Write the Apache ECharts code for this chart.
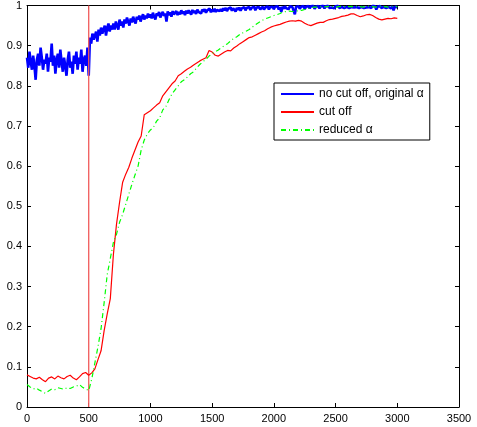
<!DOCTYPE html>
<html>
<head>
<meta charset="utf-8">
<script src="https://cdn.jsdelivr.net/npm/echarts@6/dist/echarts.min.js"></script>
<style>
  html, body { margin: 0; padding: 0; background: #fff; }
  #chart1 { width: 477px; height: 427px; }
</style>
</head>
<body>
<!-- chart container -->
<div id="chart1"></div>
<script>
// x ticks / y ticks
const xTicks = [0, 500, 1000, 1500, 2000, 2500, 3000, 3500];
const yTicks = [0, 0.1, 0.2, 0.3, 0.4, 0.5, 0.6, 0.7, 0.8, 0.9, 1];

// cut off point
const cutX = 500;

// "no cut off, original alpha", sampled every 10 steps (0..3000), one row = 100 steps
const blueStep = 10;
const blueVals = [
  0.87, 0.845, 0.885, 0.86, 0.84, 0.875, 0.85, 0.815, 0.865, 0.88,
  0.85, 0.895, 0.87, 0.84, 0.865, 0.855, 0.88, 0.835, 0.87, 0.86,
  0.905, 0.85, 0.875, 0.83, 0.865, 0.88, 0.845, 0.89, 0.86, 0.835,
  0.87, 0.85, 0.825, 0.865, 0.885, 0.845, 0.86, 0.83, 0.875, 0.855,
  0.885, 0.84, 0.87, 0.855, 0.89, 0.835, 0.865, 0.875, 0.85, 0.895,
  0.825, 0.92, 0.905, 0.93, 0.915, 0.925, 0.935, 0.91, 0.94, 0.925,
  0.945, 0.93, 0.94, 0.95, 0.925, 0.945, 0.955, 0.935, 0.95, 0.94,
  0.955, 0.94, 0.96, 0.95, 0.94, 0.965, 0.95, 0.96, 0.945, 0.965,
  0.955, 0.97, 0.96, 0.95, 0.968, 0.958, 0.972, 0.962, 0.955, 0.972,
  0.965, 0.975, 0.96, 0.97, 0.978, 0.965, 0.975, 0.968, 0.98, 0.97,
  0.978, 0.968, 0.982, 0.972, 0.965, 0.98, 0.975, 0.984, 0.97, 0.978,
  0.984, 0.974, 0.98, 0.96, 0.985, 0.976, 0.983, 0.972, 0.986, 0.978,
  0.982, 0.986, 0.976, 0.984, 0.978, 0.988, 0.98, 0.985, 0.976, 0.987,
  0.98, 0.988, 0.983, 0.977, 0.989, 0.982, 0.987, 0.979, 0.99, 0.984,
  0.988, 0.98, 0.99, 0.985, 0.991, 0.982, 0.988, 0.986, 0.992, 0.983,
  0.99, 0.985, 0.992, 0.984, 0.989, 0.993, 0.986, 0.991, 0.985, 0.993,
  0.988, 0.994, 0.986, 0.992, 0.989, 0.995, 0.987, 0.993, 0.99, 0.985,
  0.994, 0.989, 0.995, 0.987, 0.993, 0.99, 0.996, 0.988, 0.994, 0.991,
  0.996, 0.989, 0.994, 0.991, 0.997, 0.988, 0.995, 0.992, 0.996, 0.99,
  0.994, 0.997, 0.99, 0.995, 0.992, 0.998, 0.99, 0.996, 0.993, 0.997,
  0.991, 0.997, 0.993, 0.998, 0.99, 0.996, 0.984, 0.997, 0.992, 0.998,
  0.993, 0.997, 0.991, 0.998, 0.994, 0.996, 0.992, 0.978, 0.997, 0.993,
  0.998, 0.992, 0.997, 0.994, 0.999, 0.991, 0.997, 0.995, 0.999, 0.993,
  0.998, 0.994, 0.999, 0.992, 0.997, 0.995, 0.999, 0.993, 0.998, 0.995,
  0.999, 0.993, 0.998, 0.996, 0.999, 0.994, 0.998, 0.995, 0.999, 0.993,
  0.998, 0.995, 0.999, 0.994, 0.998, 0.996, 0.999, 0.994, 0.998, 0.996,
  0.999, 0.994, 0.998, 0.996, 0.999, 0.995, 0.998, 0.996, 0.999, 0.994,
  0.998, 0.996, 0.999, 0.994, 0.998, 0.995, 0.999, 0.996, 0.998, 0.994,
  0.999, 0.995, 0.998, 0.99, 0.997, 0.995, 0.999, 0.994, 0.998, 0.996,
  0.999, 0.994, 0.998, 0.996, 0.999, 0.993, 0.998, 0.988, 0.997, 0.995,
  0.996
];

// "cut off", sampled every 25 steps (0..3000), one row = 200 steps
const redStep = 25;
const redVals = [
  0.080, 0.076, 0.072, 0.070, 0.074, 0.068, 0.063, 0.072,
  0.075, 0.070, 0.077, 0.073, 0.070, 0.076, 0.079, 0.072,
  0.068, 0.075, 0.083, 0.086, 0.079, 0.085, 0.095, 0.118,
  0.14, 0.19, 0.232, 0.27, 0.38, 0.455, 0.51, 0.56,
  0.58, 0.597, 0.62, 0.64, 0.66, 0.675, 0.728, 0.733,
  0.738, 0.745, 0.752, 0.758, 0.775, 0.785, 0.795, 0.805,
  0.812, 0.825, 0.83, 0.836, 0.842, 0.846, 0.852, 0.857,
  0.862, 0.866, 0.87, 0.888, 0.884, 0.876, 0.874, 0.879,
  0.884, 0.888, 0.887, 0.894, 0.899, 0.905, 0.91, 0.915,
  0.92, 0.922, 0.926, 0.93, 0.934, 0.937, 0.942, 0.946,
  0.949, 0.951, 0.953, 0.956, 0.959, 0.961, 0.962, 0.961,
  0.963, 0.961, 0.956, 0.952, 0.950, 0.953, 0.956, 0.958,
  0.958, 0.962, 0.965, 0.966, 0.968, 0.970, 0.973, 0.974,
  0.976, 0.979, 0.979, 0.975, 0.972, 0.974, 0.977, 0.978,
  0.975, 0.970, 0.966, 0.964, 0.966, 0.968, 0.967, 0.969,
  0.968
];

// "reduced alpha", sampled every 25 steps (0..3000), one row = 200 steps
const greenStep = 25;
const greenVals = [
  0.056, 0.050, 0.045, 0.047, 0.042, 0.038, 0.034, 0.040,
  0.045, 0.043, 0.048, 0.046, 0.044, 0.048, 0.046, 0.050,
  0.052, 0.056, 0.049, 0.045, 0.041, 0.07, 0.11, 0.15,
  0.195, 0.26, 0.33, 0.37, 0.41, 0.43, 0.46, 0.48,
  0.505, 0.53, 0.555, 0.578, 0.60, 0.64, 0.665, 0.68,
  0.69, 0.697, 0.712, 0.72, 0.74, 0.748, 0.765, 0.78,
  0.79, 0.80, 0.81, 0.815, 0.822, 0.83, 0.835, 0.845,
  0.853, 0.86, 0.866, 0.874, 0.88, 0.885, 0.889, 0.895,
  0.90, 0.905, 0.912, 0.918, 0.922, 0.928, 0.932, 0.936,
  0.94, 0.946, 0.952, 0.957, 0.962, 0.966, 0.969, 0.972,
  0.975, 0.977, 0.980, 0.984, 0.985, 0.986, 0.985, 0.986,
  0.987, 0.988, 0.99, 0.992, 0.994, 0.996, 0.996, 0.997,
  0.996, 0.997, 0.998, 0.997, 0.996, 0.997, 0.998, 0.997,
  0.997, 0.998, 0.997, 0.998, 0.997, 0.996, 0.997, 0.998,
  0.997, 0.996, 0.997, 0.998, 0.997, 0.996, 0.997, 0.998,
  0.997
];

const names = ["no cut off, original \u03b1", "cut off", "reduced \u03b1"];

function toPairs(vals, step) {
  return vals.map((v, i) => [i * step, v]);
}

const font = "'Liberation Sans', Arial, Helvetica, sans-serif";

const myChart1 = echarts.init(document.getElementById("chart1"), null, { renderer: "canvas" });

const axisCommon = {
  axisLine: { show: true, onZero: false, lineStyle: { color: "#000", width: 1 } },
  axisTick: { show: true, inside: true, length: 4, lineStyle: { color: "#000" } },
  splitLine: { show: false },
};

myChart1.setOption({
  animation: false,
  backgroundColor: "#fff",
  grid: { left: 27, right: 18, top: 4, bottom: 20, containLabel: false },
  legend: {
    data: names,
    orient: "vertical",
    left: 274,
    top: 83,
    padding: [5, 6, 4, 6],
    itemGap: 6,
    itemWidth: 33,
    itemHeight: 12,
    borderColor: "#000",
    borderWidth: 1,
    backgroundColor: "#fff",
    itemStyle: { opacity: 0 },
    textStyle: { fontFamily: font, fontSize: 12, color: "#000" },
  },
  xAxis: [
    {
      type: "value",
      min: xTicks[0],
      max: xTicks[xTicks.length - 1],
      interval: 500,
      ...axisCommon,
      axisLabel: {
        color: "#000",
        fontFamily: font,
        fontSize: 11,
        margin: 6,
        formatter: (v) => String(v),
      },
    },
    {
      type: "value",
      position: "top",
      min: xTicks[0],
      max: xTicks[xTicks.length - 1],
      interval: 500,
      ...axisCommon,
      axisLabel: { show: false },
    },
  ],
  yAxis: [
    {
      type: "value",
      min: yTicks[0],
      max: yTicks[yTicks.length - 1],
      interval: 0.1,
      ...axisCommon,
      axisLabel: { color: "#000", fontFamily: font, fontSize: 11, margin: 5 },
    },
    {
      type: "value",
      position: "right",
      min: yTicks[0],
      max: yTicks[yTicks.length - 1],
      interval: 0.1,
      ...axisCommon,
      axisLabel: { show: false },
    },
  ],
  series: [
    {
      name: names[0],
      type: "line",
      symbol: "none",
      data: toPairs(blueVals, blueStep),
      lineStyle: { color: "#0000ff", width: 2.6 },
      itemStyle: { color: "#0000ff" },
    },
    {
      name: "cutline",
      type: "line",
      symbol: "none",
      data: [[cutX, yTicks[0]], [cutX, yTicks[yTicks.length - 1]]],
      lineStyle: { color: "#f05a5a", width: 1.3 },
      silent: true,
    },
    {
      name: names[1],
      type: "line",
      symbol: "none",
      data: toPairs(redVals, redStep),
      lineStyle: { color: "#ff0000", width: 1.2 },
      itemStyle: { color: "#ff0000" },
    },
    {
      name: names[2],
      type: "line",
      symbol: "none",
      data: toPairs(greenVals, greenStep),
      lineStyle: { color: "#00ff00", width: 1.2, type: [5, 3, 1, 3] },
      itemStyle: { color: "#00ff00" },
    },
  ],
});
</script>
</body>
</html>
